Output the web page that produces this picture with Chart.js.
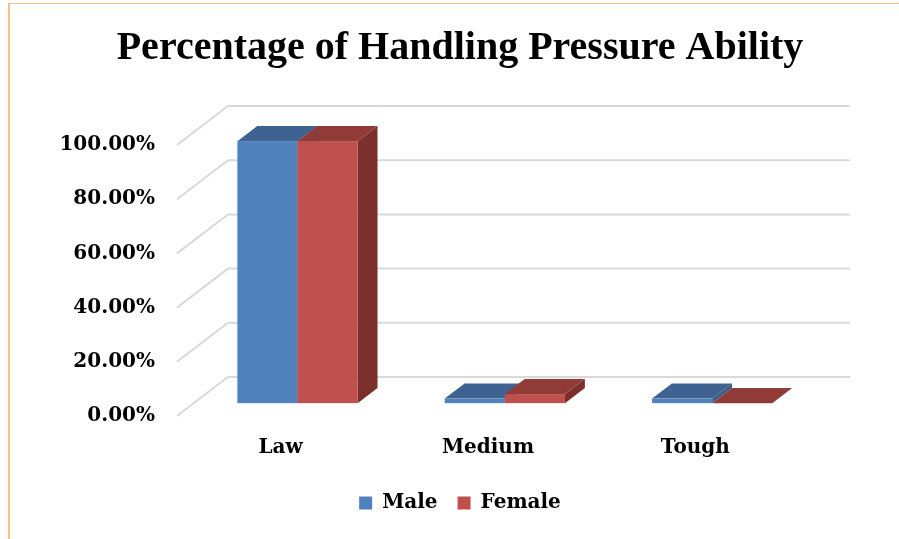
<!DOCTYPE html>
<html>
<head>
<meta charset="utf-8">
<script src="https://cdn.jsdelivr.net/npm/chart.js@4.4.1/dist/chart.umd.min.js"></script>
<style>
  html, body { margin: 0; padding: 0; background: #fff; }
  #wrap { position: relative; width: 899px; height: 539px; }
  #frame {
    position: absolute; left: 8px; top: 3px; right: 0; bottom: 0;
    border-left: 2px solid #fbc08a; border-top: 1px solid #fbc08a;
    pointer-events: none;
  }
</style>
</head>
<body>
<div id="wrap">
  <canvas id="grafico"></canvas>
  <div id="frame"></div>
</div>
<script>
const categorias = ['Law', 'Medium', 'Tough'];
const male = [96.67, 1.67, 1.67];
const female = [96.67, 3.33, 0];
const yTicks = [0, 20, 40, 60, 80, 100];

// depth of the 3D box and where bars sit inside it
const DEPTH = { x: 51, y: -39 };
const BAR_FRONT = 0.33;
const BAR_DEPTH = 0.39;

const colores = {
    male: { front: '#4f81bd', top: '#3e6390', side: '#3a5d89' },
    female: { front: '#c0504d', top: '#913b39', side: '#7b302e' }
};

const fuente = { family: '"DejaVu Serif", serif', weight: 'bold', size: 20 };

const tresD = {
    id: 'tresD',
    beforeDatasetsDraw(chart) {
        const { ctx, chartArea, scales } = chart;
        const y = scales.y;
        ctx.save();
        ctx.strokeStyle = '#d9d9d9';
        ctx.lineWidth = 2;
        yTicks.forEach(v => {
            const py = y.getPixelForValue(v);
            ctx.beginPath();
            ctx.moveTo(chartArea.left, py);
            ctx.lineTo(chartArea.left + DEPTH.x, py + DEPTH.y);
            ctx.lineTo(chartArea.right + DEPTH.x, py + DEPTH.y);
            ctx.stroke();
        });
        ctx.restore();
    },
    beforeDatasetDraw() {
        return false;
    },
    afterDatasetsDraw(chart) {
        const ctx = chart.ctx;
        const ox = DEPTH.x * BAR_FRONT, oy = DEPTH.y * BAR_FRONT;
        const bx = DEPTH.x * BAR_DEPTH, by = DEPTH.y * BAR_DEPTH;
        const metas = [chart.getDatasetMeta(0), chart.getDatasetMeta(1)];
        const pal = [colores.male, colores.female];
        ctx.save();
        categorias.forEach((c, i) => {
            metas.forEach((meta, d) => {
                const el = meta.data[i];
                const p = pal[d];
                const x0 = el.x - el.width / 2 + ox;
                const x1 = x0 + el.width;
                const yt = el.y + oy;
                const yb = el.base + oy;
                // side
                ctx.fillStyle = p.side;
                ctx.beginPath();
                ctx.moveTo(x1, yt);
                ctx.lineTo(x1 + bx, yt + by);
                ctx.lineTo(x1 + bx, yb + by);
                ctx.lineTo(x1, yb);
                ctx.closePath();
                ctx.fill();
                // top
                ctx.fillStyle = p.top;
                ctx.beginPath();
                ctx.moveTo(x0, yt);
                ctx.lineTo(x1, yt);
                ctx.lineTo(x1 + bx, yt + by);
                ctx.lineTo(x0 + bx, yt + by);
                ctx.closePath();
                ctx.fill();
                // front
                ctx.fillStyle = p.front;
                ctx.fillRect(x0, yt, el.width, yb - yt);
            });
        });
        ctx.restore();
    }
};

new Chart(document.getElementById('grafico'), {
    type: 'bar',
    data: {
        labels: categorias,
        datasets: [
            { label: 'Male', data: male, backgroundColor: colores.male.front },
            { label: 'Female', data: female, backgroundColor: colores.female.front }
        ]
    },
    options: {
        responsive: true,
        maintainAspectRatio: false,
        animation: false,
        categoryPercentage: 0.58,
        barPercentage: 1,
        layout: { padding: { left: 21, right: 0, top: 0, bottom: 16 } },
        plugins: {
            title: {
                display: true,
                text: 'Percentage of Handling Pressure Ability',
                color: '#000',
                font: { family: '"Liberation Serif", serif', weight: 'bold', size: 40 },
                padding: { top: 25, bottom: 72 }
            },
            legend: {
                position: 'bottom',
                labels: {
                    color: '#000',
                    font: fuente,
                    boxWidth: 13,
                    boxHeight: 13,
                    padding: 20
                }
            },
            tooltip: { enabled: false }
        },
        scales: {
            x: {
                grid: { display: false, drawTicks: false },
                border: { display: false },
                ticks: { color: '#000', font: fuente, padding: 20 },
                afterFit(s) { s.height = 57; }
            },
            y: {
                min: 0,
                max: 100,
                grid: { display: false, drawTicks: false },
                border: { display: false },
                ticks: {
                    stepSize: 20,
                    color: '#000',
                    font: fuente,
                    padding: 22,
                    callback: v => v.toFixed(2) + '%'
                },
                afterFit(s) { s.width = 156; }
            },
            // empty axis on the right, leaves room for the back wall depth
            derecha: {
                type: 'linear',
                position: 'right',
                grid: { display: false, drawTicks: false },
                border: { display: false },
                ticks: { display: false },
                afterFit(s) { s.width = 100; }
            }
        }
    },
    plugins: [tresD]
});
</script>
</body>
</html>
